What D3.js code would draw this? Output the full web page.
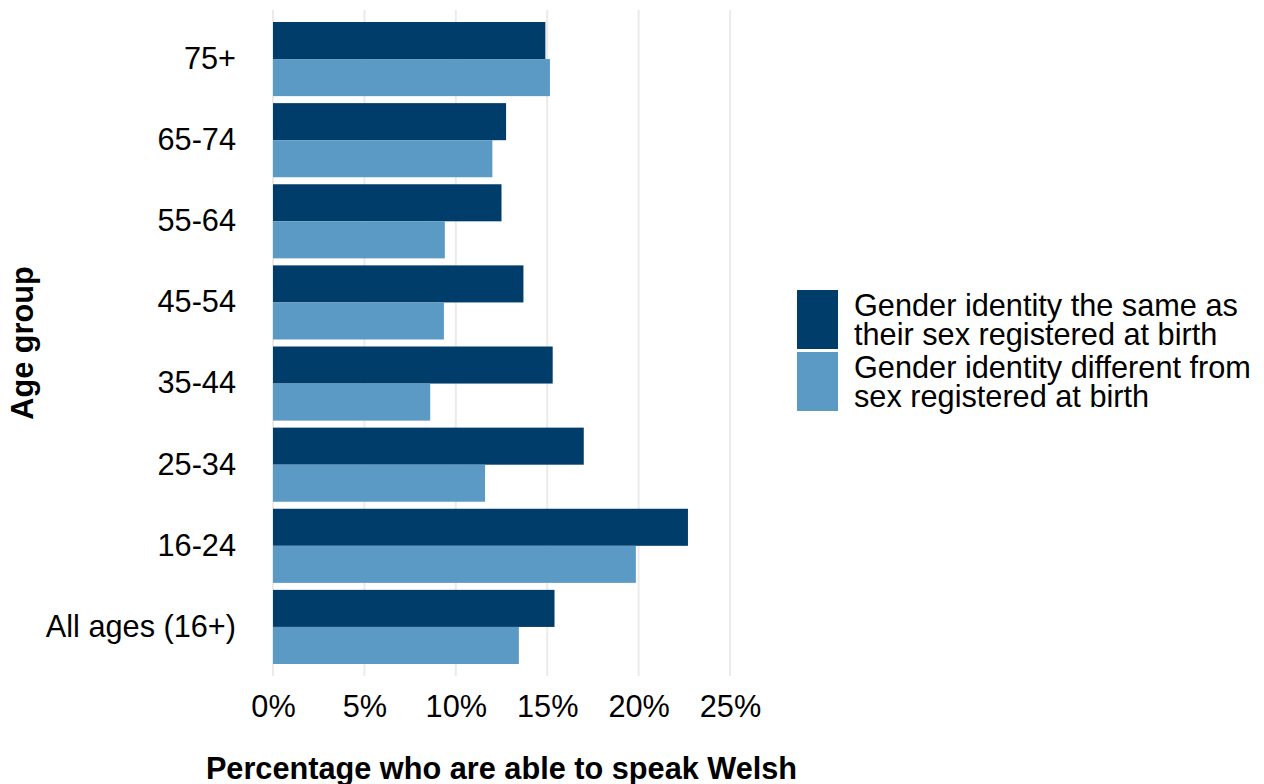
<!DOCTYPE html>
<html>
<head>
<meta charset="utf-8">
<script src="https://cdn.jsdelivr.net/npm/d3@7"></script>
<style>
  body { margin: 0; background: #fff; }
  svg { font-family: "Liberation Sans", Arial, sans-serif; }
</style>
</head>
<body>
<div id="chart"></div>
<script>
// Dati del grafico
const ageGroups = ["75+", "65-74", "55-64", "45-54", "35-44", "25-34", "16-24", "All ages (16+)"];
const seriesNames = ["Gender identity the same as their sex registered at birth",
                     "Gender identity different from sex registered at birth"];
const sameAsBirth = [14.9, 12.75, 12.5, 13.7, 15.3, 17.0, 22.7, 15.4];
const differentFromBirth = [15.15, 12.0, 9.4, 9.35, 8.6, 11.6, 19.85, 13.45];
const xTicks = [0, 5, 10, 15, 20, 25];
const legendLines = [["Gender identity the same as", "their sex registered at birth"],
                     ["Gender identity different from", "sex registered at birth"]];
const colors = ["#003d6b", "#5c9ac6"];

const width = 1264, height = 784;
const plotLeft = 273, plotRight = 730, plotTop = 10, plotBottom = 676;
const fontSize = 30.7;

const svg = d3.select("#chart").append("svg")
    .attr("width", width)
    .attr("height", height);

const x = d3.scaleLinear().domain([0, 25]).range([plotLeft, plotRight]);
const y = d3.scaleBand().domain(ageGroups)
    .range([18.5, 667.5])
    .paddingInner(0.0863)
    .paddingOuter(0.0432);
const ySub = d3.scaleBand().domain([0, 1]).range([0, y.bandwidth()]);

// Griglia verticale
svg.append("g")
    .selectAll("line")
    .data(xTicks)
    .join("line")
    .attr("x1", d => x(d)).attr("x2", d => x(d))
    .attr("y1", plotTop).attr("y2", plotBottom)
    .attr("stroke", "#ebebeb")
    .attr("stroke-width", 2);

// Barre
const rows = ageGroups.map((g, i) => ({ group: g, values: [sameAsBirth[i], differentFromBirth[i]] }));
svg.append("g")
    .selectAll("g")
    .data(rows)
    .join("g")
    .attr("transform", d => `translate(0,${y(d.group)})`)
    .selectAll("rect")
    .data(d => d.values.map((v, k) => ({ v, k })))
    .join("rect")
    .attr("x", x(0))
    .attr("y", d => ySub(d.k))
    .attr("width", d => x(d.v) - x(0))
    .attr("height", ySub.bandwidth())
    .attr("fill", d => colors[d.k]);

// Asse X
const xAxis = svg.append("g")
    .attr("transform", `translate(0,${plotBottom})`)
    .call(d3.axisBottom(x).tickValues(xTicks).tickFormat(d => d + "%").tickSize(0).tickPadding(19));
xAxis.select(".domain").remove();
xAxis.selectAll("text").attr("font-size", fontSize).attr("fill", "#000").attr("font-family", null);

// Asse Y
const yAxis = svg.append("g")
    .attr("transform", `translate(${plotLeft},0)`)
    .call(d3.axisLeft(y).tickSize(0).tickPadding(37));
yAxis.select(".domain").remove();
yAxis.selectAll("text").attr("font-size", fontSize).attr("fill", "#000").attr("font-family", null);

// Titoli degli assi
svg.append("text")
    .attr("x", (plotLeft + plotRight) / 2)
    .attr("y", 779)
    .attr("text-anchor", "middle")
    .attr("font-size", fontSize)
    .attr("font-weight", "bold")
    .text("Percentage who are able to speak Welsh");

svg.append("text")
    .attr("transform", `translate(33,${(plotTop + plotBottom) / 2}) rotate(-90)`)
    .attr("text-anchor", "middle")
    .attr("font-size", fontSize)
    .attr("font-weight", "bold")
    .text("Age group");

// Legenda
const legend = svg.append("g").attr("transform", "translate(797,290)");
const item = legend.selectAll("g")
    .data(seriesNames)
    .join("g")
    .attr("transform", (d, i) => `translate(0,${i * 62})`);
item.append("rect")
    .attr("width", 41)
    .attr("height", 59)
    .attr("fill", (d, i) => colors[i]);
item.append("text")
    .attr("x", 57)
    .attr("font-size", fontSize)
    .attr("fill", "#000")
    .selectAll("tspan")
    .data((d, i) => legendLines[i])
    .join("tspan")
    .attr("x", 57)
    .attr("y", (d, j) => 26 + j * 29)
    .text(d => d);
</script>
</body>
</html>
